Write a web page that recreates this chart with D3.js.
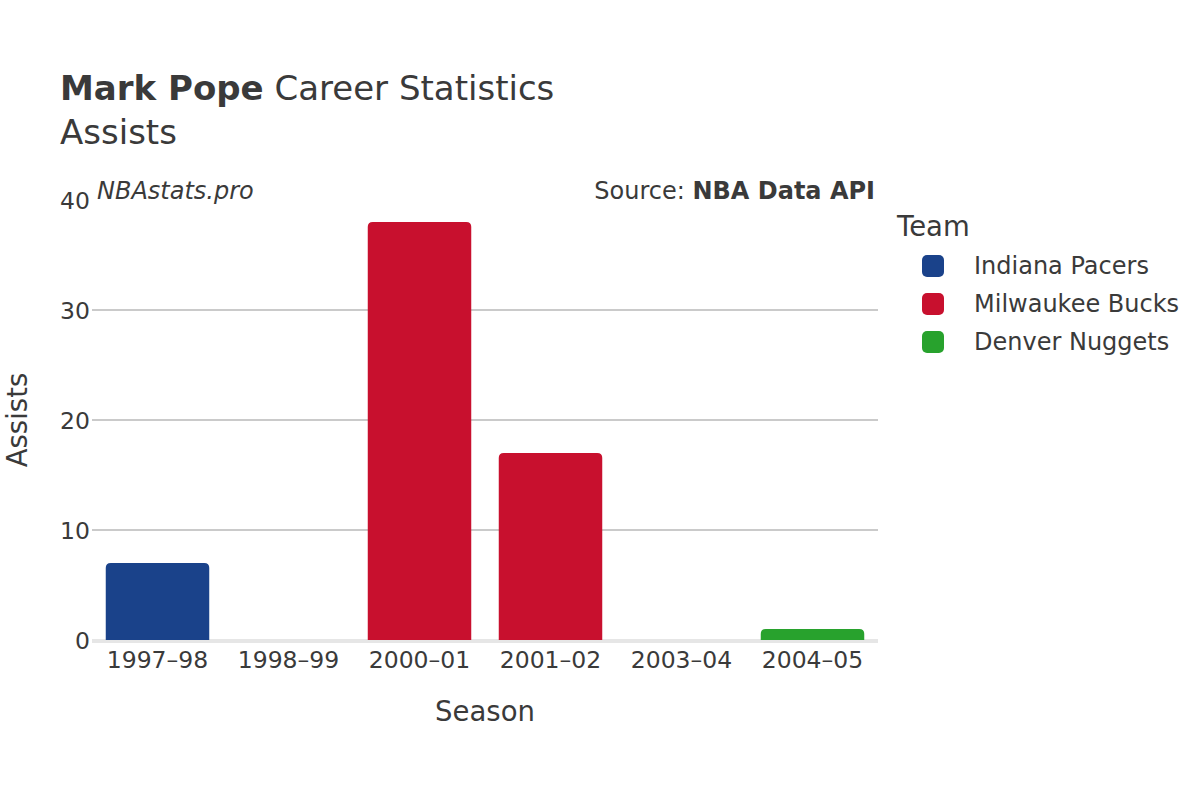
<!DOCTYPE html>
<html>
<head>
<meta charset="utf-8">
<script src="https://cdn.jsdelivr.net/npm/d3@7"></script>
<style>
  body { margin: 0; background: #fff; }
  svg { font-family: "DejaVu Sans", sans-serif; }
</style>
</head>
<body>
<svg id="chart" width="1200" height="800"></svg>
<script>
const seasons = ["1997\u201398", "1998\u201399", "2000\u201301", "2001\u201302", "2003\u201304", "2004\u201305"];
const assists = [7, 0, 38, 17, 0, 1];
const seasonTeams = ["Indiana Pacers", "Indiana Pacers", "Milwaukee Bucks", "Milwaukee Bucks", "Denver Nuggets", "Denver Nuggets"];
const teams = ["Indiana Pacers", "Milwaukee Bucks", "Denver Nuggets"];
const teamColors = ["#1a428a", "#c8102e", "#28a22d"];
const yTicks = [0, 10, 20, 30, 40];

(function () {
const svg = d3.select("#chart");
const plotLeft = 92, plotRight = 878, plotTop = 200, plotBottom = 640;
const textColor = "#3a3a3a";

const x = d3.scaleBand().domain(seasons).range([plotLeft, plotRight]).paddingInner(0.21).paddingOuter(0.105);
const y = d3.scaleLinear().domain([0, 40]).range([plotBottom, plotTop]);
const color = d3.scaleOrdinal().domain(teams).range(teamColors);

// gridlines
svg.append("g").selectAll("line").data(yTicks.filter(d => d > 0 && d < 40)).join("line")
  .attr("x1", plotLeft).attr("x2", plotRight)
  .attr("y1", d => y(d)).attr("y2", d => y(d))
  .attr("stroke", "#b8b8b8").attr("stroke-width", 1.3);

// zero line
svg.append("line").attr("x1", plotLeft).attr("x2", plotRight)
  .attr("y1", y(0) + 1).attr("y2", y(0) + 1)
  .attr("stroke", "#e6e6e6").attr("stroke-width", 4);

// bars with rounded tops
const r = 5;
function barPath(x0, w, y0, y1) {
  const h = y1 - y0;
  if (h <= 0) return "";
  const rr = Math.min(r, h, w / 2);
  return `M${x0},${y1} L${x0},${y0 + rr} Q${x0},${y0} ${x0 + rr},${y0} L${x0 + w - rr},${y0} Q${x0 + w},${y0} ${x0 + w},${y0 + rr} L${x0 + w},${y1} Z`;
}
svg.append("g").selectAll("path").data(seasons).join("path")
  .attr("d", (s, i) => barPath(x(s), x.bandwidth(), y(assists[i]), y(0)))
  .attr("fill", (s, i) => color(seasonTeams[i]));

// y axis
const yAxis = d3.axisLeft(y).tickValues(yTicks).tickSize(0).tickPadding(0);
const yg = svg.append("g").attr("transform", `translate(${plotLeft - 2},0)`).call(yAxis);
yg.select(".domain").remove();
yg.selectAll("text").attr("font-size", 23.5).attr("fill", textColor).attr("font-family", "DejaVu Sans, sans-serif").attr("dy", "0.35em");

// x axis
const xAxis = d3.axisBottom(x).tickSize(0).tickPadding(0);
const xg = svg.append("g").attr("transform", `translate(0,${plotBottom + 28})`).call(xAxis);
xg.select(".domain").remove();
xg.selectAll("text").attr("font-size", 23.5).attr("fill", textColor).attr("font-family", "DejaVu Sans, sans-serif").attr("dy", "0");

// titles
const title = svg.append("text").attr("x", 60).attr("y", 100).attr("font-size", 34).attr("fill", textColor);
title.append("tspan").attr("font-weight", "bold").text("Mark Pope");
title.append("tspan").text(" Career Statistics");
svg.append("text").attr("x", 60).attr("y", 144).attr("font-size", 34).attr("fill", textColor).text("Assists");

svg.append("text").attr("x", 97).attr("y", 199).attr("font-size", 24).attr("font-style", "italic").attr("fill", textColor).text("NBAstats.pro");
const src = svg.append("text").attr("x", 875).attr("y", 199).attr("text-anchor", "end").attr("font-size", 24).attr("fill", textColor);
src.append("tspan").text("Source: ");
src.append("tspan").attr("font-weight", "bold").text("NBA Data API");

// axis titles
svg.append("text").attr("x", 485).attr("y", 721).attr("text-anchor", "middle").attr("font-size", 27.5).attr("fill", textColor).text("Season");
svg.append("text").attr("transform", "translate(27,420) rotate(-90)").attr("text-anchor", "middle").attr("font-size", 27.5).attr("fill", textColor).text("Assists");

// legend
svg.append("text").attr("x", 897).attr("y", 236).attr("font-size", 27.5).attr("fill", textColor).text("Team");
const lg = svg.append("g").selectAll("g").data(teams).join("g")
  .attr("transform", (d, i) => `translate(922,${266 + i * 38})`);
lg.append("rect").attr("x", 0).attr("y", -11).attr("width", 22).attr("height", 22).attr("rx", 5)
  .attr("fill", d => color(d));
lg.append("text").attr("x", 52).attr("y", 0).attr("dy", "0.35em").attr("font-size", 24).attr("fill", textColor).text(d => d);
})();
</script>
</body>
</html>
